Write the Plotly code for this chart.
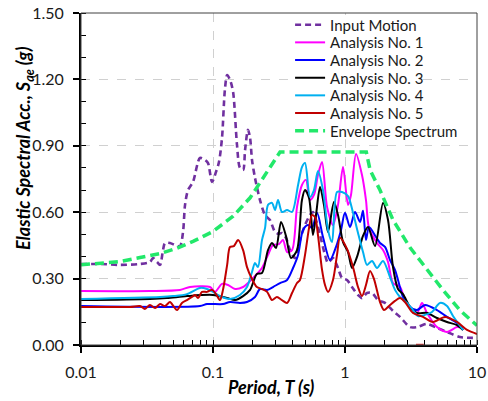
import plotly.graph_objects as go

# ---------------- data (period T in s, spectral acceleration in g) ----------------
input_T = [0.01, 0.0139, 0.0197, 0.028, 0.0333, 0.0351, 0.0377, 0.0397, 0.0418, 0.0433, 0.0472, 0.0515,
           0.0562, 0.0593, 0.0614, 0.0647, 0.0706, 0.0797, 0.087, 0.0917, 0.0983, 0.1054, 0.111, 0.117,
           0.123, 0.128, 0.1345, 0.142, 0.152, 0.16, 0.169, 0.175, 0.184, 0.191, 0.1975, 0.208, 0.227,
           0.248, 0.27, 0.295, 0.316, 0.333, 0.357, 0.383, 0.418, 0.456, 0.498, 0.543, 0.572, 0.603,
           0.647, 0.7055, 0.7435, 0.811, 0.885, 0.949, 1.036, 1.13, 1.255, 1.345, 1.468, 1.602, 1.778,
           2.009, 2.31, 2.61, 3.108, 3.511, 4.181, 4.977, 5.925, 7.435, 10.0]
input_Sa = [0.366, 0.366, 0.362, 0.366, 0.375, 0.393, 0.375, 0.362, 0.429, 0.461, 0.461, 0.452,
            0.447, 0.511, 0.633, 0.700, 0.737, 0.845, 0.836, 0.822, 0.737, 0.782, 0.827, 0.935,
            1.152, 1.220, 1.198, 1.143, 0.904, 0.800, 0.791, 0.881, 0.972, 0.935, 0.836, 0.755, 0.655,
            0.587, 0.565, 0.511, 0.502, 0.506, 0.484, 0.429, 0.393, 0.474, 0.542, 0.587, 0.601, 0.565,
            0.497, 0.407, 0.371, 0.393, 0.348, 0.303, 0.294, 0.262, 0.226, 0.212, 0.235, 0.235, 0.203,
            0.190, 0.154, 0.127, 0.081, 0.081, 0.095, 0.077, 0.059, 0.036, 0.032]

a1_T = [0.01, 0.0333, 0.0562, 0.067, 0.0949, 0.1035, 0.117, 0.13, 0.147, 0.169, 0.191, 0.208, 0.235,
        0.261, 0.285, 0.316, 0.339, 0.364, 0.397, 0.433, 0.472, 0.506, 0.543, 0.582, 0.624, 0.67,
        0.731, 0.811, 0.885, 0.966, 1.054, 1.11, 1.212, 1.345, 1.442, 1.52, 1.748, 1.941, 2.118,
        2.31, 2.61, 2.848, 3.108, 3.511, 3.831, 4.181, 4.977, 5.925, 7.055, 7.834]
a1_Sa = [0.244, 0.244, 0.249, 0.262, 0.262, 0.240, 0.276, 0.271, 0.253, 0.262, 0.289, 0.312, 0.348,
         0.407, 0.452, 0.456, 0.474, 0.420, 0.429, 0.624, 0.723, 0.746, 0.655, 0.678, 0.768, 0.827,
         0.624, 0.542, 0.633, 0.804, 0.633, 0.678, 0.863, 0.768, 0.655, 0.529, 0.461, 0.429, 0.375,
         0.280, 0.262, 0.203, 0.172, 0.145, 0.190, 0.145, 0.081, 0.059, 0.081, 0.077]

a2_T = [0.01, 0.0797, 0.0901, 0.119, 0.1345, 0.16, 0.181, 0.208, 0.227, 0.257, 0.285, 0.322, 0.364,
        0.404, 0.441, 0.481, 0.5245, 0.562, 0.614, 0.681, 0.77, 0.855, 0.933, 1.0, 1.091, 1.191,
        1.299, 1.369, 1.442, 1.52, 1.717, 1.842, 2.009, 2.193, 2.392, 2.521, 2.75, 3.108, 3.511,
        4.037, 4.977, 5.925, 7.055, 7.834]
a2_Sa = [0.176, 0.176, 0.185, 0.185, 0.194, 0.190, 0.194, 0.217, 0.253, 0.249, 0.262, 0.280, 0.294,
         0.348, 0.407, 0.520, 0.542, 0.529, 0.597, 0.488, 0.384, 0.443, 0.520, 0.597, 0.533, 0.601,
         0.556, 0.606, 0.474, 0.533, 0.488, 0.461, 0.443, 0.384, 0.339, 0.294, 0.217, 0.172, 0.158,
         0.181, 0.158, 0.127, 0.099, 0.068]

a3_T = [0.01, 0.0333, 0.0448, 0.0635, 0.1, 0.128, 0.147, 0.169, 0.191, 0.215, 0.235, 0.261, 0.28,
        0.30, 0.3275, 0.357, 0.39, 0.433, 0.472, 0.498, 0.534, 0.572, 0.603, 0.647, 0.693, 0.7435,
        0.825, 0.885, 0.966, 1.054, 1.13, 1.233, 1.369, 1.494, 1.688, 1.941, 2.118, 2.31, 2.521,
        2.75, 3.108, 3.511, 4.181, 4.977, 5.925, 7.055, 7.834]
a3_Sa = [0.203, 0.208, 0.212, 0.221, 0.226, 0.212, 0.203, 0.221, 0.249, 0.321, 0.325, 0.429, 0.461,
         0.438, 0.556, 0.493, 0.393, 0.429, 0.655, 0.700, 0.664, 0.497, 0.587, 0.714, 0.633, 0.511,
         0.646, 0.587, 0.465, 0.420, 0.348, 0.398, 0.493, 0.533, 0.447, 0.642, 0.565, 0.352, 0.253,
         0.230, 0.172, 0.145, 0.145, 0.122, 0.104, 0.090, 0.068]

a4_T = [0.01, 0.0397, 0.0498, 0.0635, 0.0797, 0.0901, 0.1, 0.117, 0.1345, 0.16, 0.181, 0.1975, 0.208,
        0.219, 0.235, 0.248, 0.261, 0.28, 0.295, 0.311, 0.333, 0.364, 0.397, 0.441, 0.472, 0.498,
        0.543, 0.582, 0.624, 0.681, 0.7435, 0.797, 0.87, 0.949, 1.054, 1.15, 1.255, 1.369, 1.468,
        1.602, 1.748, 1.941, 2.193, 2.392, 2.61, 2.949, 3.275, 3.573, 4.037, 4.562, 5.245, 5.925,
        6.579, 7.834]
a4_Sa = [0.208, 0.217, 0.221, 0.230, 0.258, 0.253, 0.240, 0.217, 0.208, 0.226, 0.262, 0.330, 0.371,
         0.352, 0.474, 0.529, 0.633, 0.642, 0.610, 0.655, 0.601, 0.610, 0.601, 0.723, 0.804, 0.822,
         0.669, 0.700, 0.786, 0.700, 0.520, 0.465, 0.691, 0.691, 0.673, 0.597, 0.506, 0.420, 0.362,
         0.380, 0.348, 0.380, 0.307, 0.249, 0.217, 0.190, 0.158, 0.131, 0.136, 0.149, 0.190, 0.176,
         0.131, 0.068]

a5_T = [0.01, 0.0235, 0.028, 0.0305, 0.0333, 0.0364, 0.0397, 0.0433, 0.0472, 0.0506, 0.0534, 0.0582,
        0.0635, 0.0693, 0.0731, 0.077, 0.0825, 0.0901, 0.0983, 0.1054, 0.113, 0.119, 0.128, 0.1345,
        0.144, 0.155, 0.169, 0.181, 0.1975, 0.215, 0.235, 0.257, 0.28, 0.305, 0.333, 0.364, 0.397,
        0.433, 0.456, 0.498, 0.534, 0.562, 0.5925, 0.624, 0.67, 0.7055, 0.7435, 0.811, 0.87, 0.9165,
        1.036, 1.15, 1.255, 1.345, 1.442, 1.547, 1.658, 1.842, 1.975, 2.193, 2.392, 2.61, 2.848,
        3.275, 3.898, 4.642, 5.723, 7.055, 8.401, 10.0]
a5_Sa = [0.172, 0.172, 0.176, 0.163, 0.181, 0.167, 0.185, 0.176, 0.194, 0.172, 0.158, 0.190,
         0.203, 0.217, 0.226, 0.212, 0.240, 0.240, 0.249, 0.230, 0.203, 0.249, 0.362, 0.443,
         0.447, 0.474, 0.429, 0.352, 0.298, 0.262, 0.253, 0.240, 0.203, 0.217, 0.203, 0.190, 0.235,
         0.280, 0.294, 0.407, 0.529, 0.587, 0.578, 0.497, 0.339, 0.271, 0.240, 0.294, 0.407, 0.484,
         0.434, 0.352, 0.262, 0.221, 0.271, 0.334, 0.298, 0.194, 0.158, 0.181, 0.199, 0.212, 0.194,
         0.145, 0.127, 0.104, 0.127, 0.104, 0.068, 0.050]
a5_mark_T = [3.45, 3.95]
a5_mark_Sa = [0.0, 0.0]

env_T = [0.01, 0.0139, 0.0197, 0.028, 0.0397, 0.0534, 0.0706, 0.1, 0.142, 0.191, 0.248, 0.295, 0.322,
         1.45, 1.55, 1.84, 2.31, 3.11, 4.18, 5.5, 7.4, 9.66, 10.0]
env_Sa = [0.362, 0.368, 0.377, 0.395, 0.413, 0.437, 0.468, 0.513, 0.582, 0.665, 0.765, 0.835, 0.872,
          0.872, 0.79, 0.70, 0.565, 0.44, 0.34, 0.25, 0.158, 0.092, 0.088]

x_ticks = [0.01, 0.1, 1, 10]
x_tick_text = ["0.01", "0.1", "1", "10"]

FONT = "Lato"
TXT = "#1a1a1a"

fig = go.Figure()

legend_ids = ["legend", "legend2", "legend3", "legend4", "legend5", "legend6", "legend7"]

def add_line(T, Sa, name, color, width, dash="solid", shape="spline", legend_id=None):
    fig.add_trace(go.Scatter(
        x=T, y=Sa, mode="lines", name=name, showlegend=legend_id is not None,
        legend=legend_id if legend_id else "legend",
        line=dict(color=color, width=width, dash=dash, shape=shape,
                  smoothing=0.8 if shape == "spline" else None),
        hoverinfo="skip", cliponaxis=legend_id is not None))

add_line(input_T, input_Sa, "Input Motion", "#7030A0", 2.6, dash="6px,4px", legend_id=legend_ids[0])
add_line(a1_T, a1_Sa, "Analysis No. 1", "#FF00FF", 2, legend_id=legend_ids[1])
add_line(a2_T, a2_Sa, "Analysis No. 2", "#0000FF", 2, legend_id=legend_ids[2])
add_line(a3_T, a3_Sa, "Analysis No. 3", "#000000", 2, legend_id=legend_ids[3])
add_line(a4_T, a4_Sa, "Analysis No. 4", "#00B0F0", 2, legend_id=legend_ids[4])
add_line(a5_T, a5_Sa, "Analysis No. 5", "#C00000", 2, legend_id=legend_ids[5])
add_line(a5_mark_T, a5_mark_Sa, "Analysis No. 5", "#E03030", 2.5, shape="linear")
add_line(env_T, env_Sa, "Envelope Spectrum", "#22E86A", 3.5, dash="9px,5px", shape="linear",
         legend_id=legend_ids[6])

legend_layout = {}
for i, lid in enumerate(legend_ids):
    legend_layout[lid] = dict(x=0.528, y=0.964 - i * 0.0532, xanchor="left", yanchor="middle",
                              bgcolor="rgba(0,0,0,0)", borderwidth=0,
                              font=dict(family=FONT, size=15, color=TXT), itemwidth=30)

fig.update_layout(
    width=488, height=401,
    margin=dict(l=81, r=11, t=13, b=56, autoexpand=False),
    paper_bgcolor="white", plot_bgcolor="white",
    font=dict(family=FONT, size=16, color=TXT),
    showlegend=True,
    hovermode=False,
    xaxis=dict(type="log", range=[-2, 1], automargin=False,
               tickvals=x_ticks, ticktext=x_tick_text,
               ticks="outside", ticklen=6, tickwidth=1.5, tickcolor="black",
               showline=True, linecolor="black", linewidth=2,
               showgrid=True, gridcolor="#D0D0D0", griddash="dash", gridwidth=1,
               minor=dict(ticks="inside", ticklen=5, tickwidth=1.2, tickcolor="black",
                          dtick="D1", showgrid=False),
               zeroline=False, ticklabelstandoff=6, ticklabeloverflow="allow",
               tickfont=dict(family=FONT, size=16, color=TXT)),
    yaxis=dict(range=[0, 1.5], dtick=0.3, tick0=0, tickformat=".2f", automargin=False,
               ticks="outside", ticklen=6, tickwidth=1.5, tickcolor="black",
               showline=True, linecolor="black", linewidth=2,
               showgrid=True, gridcolor="#D0D0D0", griddash="dash", gridwidth=1,
               minor=dict(ticks="inside", ticklen=5, tickwidth=1.2, tickcolor="black",
                          dtick=0.1, showgrid=False),
               zeroline=False, ticklabelstandoff=6, ticklabeloverflow="allow",
               tickfont=dict(family=FONT, size=16, color=TXT)),
    **legend_layout,
)

# white backing behind the legend entries
fig.add_shape(type="rect", xref="paper", yref="paper", x0=0.535, x1=0.859, y0=0.675, y1=0.994,
              line=dict(width=0), fillcolor="white", layer="above")
fig.add_shape(type="rect", xref="paper", yref="paper", x0=0.535, x1=0.947, y0=0.620, y1=0.675,
              line=dict(width=0), fillcolor="white", layer="above")

# plot frame (top / right)
fig.add_shape(type="rect", xref="paper", yref="paper", x0=0, y0=0, x1=1, y1=1,
              line=dict(color="#404040", width=1), layer="above")

fig.add_annotation(text="<b><i>Period, T (s)</i></b>", xref="paper", yref="paper",
                   x=0.482, y=-0.127, xanchor="center", yanchor="middle", showarrow=False,
                   font=dict(family=FONT, size=18, color="#000000"))
fig.add_annotation(text="<b><i>Elastic Spectral Acc., S<sub>ae</sub> (g)</i></b>", xref="paper", yref="paper",
                   x=-0.144, y=0.593, xanchor="center", yanchor="middle", textangle=-90, showarrow=False,
                   font=dict(family=FONT, size=18, color="#000000"))

# remove the default 8px page margin so the figure sits at the window's top-left corner
fig.write_html("out.html", config={"displayModeBar": False},
               post_script="document.body.style.margin='0px';")
